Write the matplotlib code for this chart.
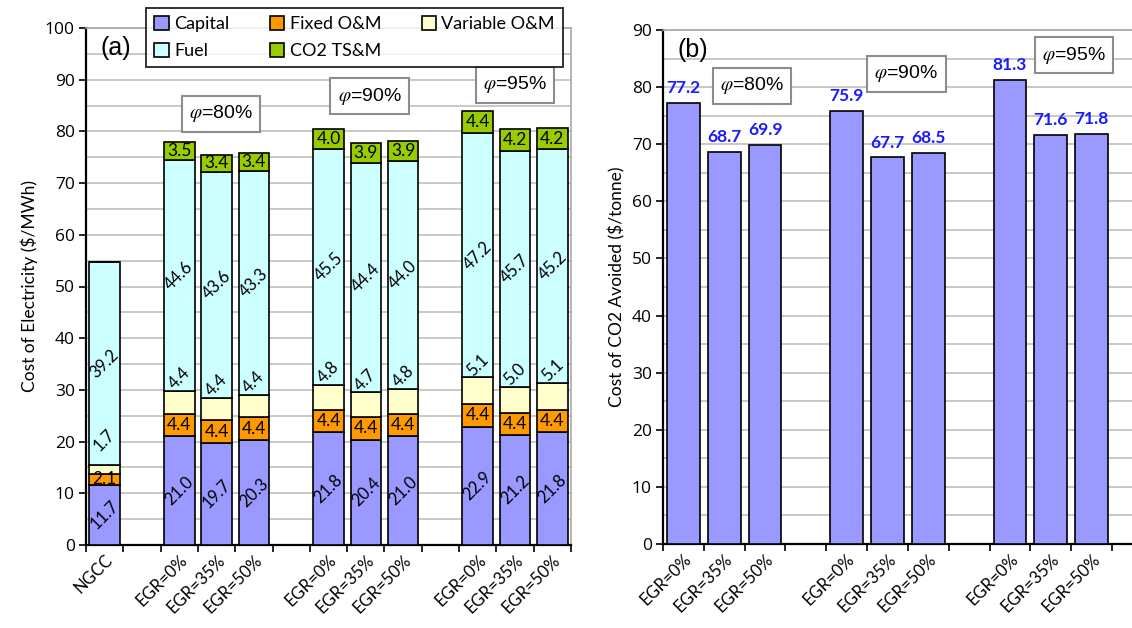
import matplotlib.pyplot as plt
import numpy as np

plt.rcParams['mathtext.fontset'] = 'stix'

# data, panel (a): cost of electricity components ($/MWh)
cats_a = ['NGCC', '', 'EGR=0%', 'EGR=35%', 'EGR=50%', '', 'EGR=0%', 'EGR=35%', 'EGR=50%',
          '', 'EGR=0%', 'EGR=35%', 'EGR=50%']
bar_slots_a = [0, 2, 3, 4, 6, 7, 8, 10, 11, 12]
capital = [11.7, 21.0, 19.7, 20.3, 21.8, 20.4, 21.0, 22.9, 21.2, 21.8]
fixed_om = [2.1, 4.4, 4.4, 4.4, 4.4, 4.4, 4.4, 4.4, 4.4, 4.4]
variable_om = [1.7, 4.4, 4.4, 4.4, 4.8, 4.7, 4.8, 5.1, 5.0, 5.1]
fuel = [39.2, 44.6, 43.6, 43.3, 45.5, 44.4, 44.0, 47.2, 45.7, 45.2]
co2_tsm = [0.0, 3.5, 3.4, 3.4, 4.0, 3.9, 3.9, 4.4, 4.2, 4.2]

# data, panel (b): cost of CO2 avoided ($/tonne)
cats_b = ['EGR=0%', 'EGR=35%', 'EGR=50%', '', 'EGR=0%', 'EGR=35%', 'EGR=50%',
          '', 'EGR=0%', 'EGR=35%', 'EGR=50%']
bar_slots_b = [0, 1, 2, 4, 5, 6, 8, 9, 10]
co2_avoided = [77.2, 68.7, 69.9, 75.9, 67.7, 68.5, 81.3, 71.6, 71.8]

phi_labels = ['80%', '90%', '95%']

colors = {'Capital': '#9999ff', 'Fixed O&M': '#ff9900', 'Variable O&M': '#ffffcc',
          'Fuel': '#ccffff', 'CO2 TS&M': '#99cc00'}

LAB = 'Lato'
ARI = 'Liberation Sans'
NUM = 'Open Sans'

fig = plt.figure(figsize=(11.32, 6.28), dpi=100)
ax1 = fig.add_axes([86 / 1132, 1 - 545 / 628, (571 - 86) / 1132, (545 - 28) / 628])
ax2 = fig.add_axes([663 / 1132, 1 - 544 / 628, (1132 - 663) / 1132, (544 - 30) / 628])


def style_axes(ax, ncat, ymax, xmax):
    ax.set_xlim(-0.5, xmax)
    ax.set_ylim(0, ymax)
    ax.set_yticks(np.arange(0, ymax + 1, 10))
    ax.set_yticks(np.arange(5, ymax, 10), minor=True)
    ax.set_xticks(np.arange(-0.5, ncat, 1.0), minor=True)
    ax.grid(True, axis='y', which='both', color='#c8c8c8', linewidth=1.4, zorder=0)
    ax.set_axisbelow(True)
    ax.tick_params(axis='y', which='major', direction='out', length=5, width=1.2,
                   labelsize=12.5, pad=3)
    ax.tick_params(axis='y', which='minor', length=0)
    ax.tick_params(axis='x', which='major', length=0, pad=5)
    ax.tick_params(axis='x', which='minor', direction='out', length=5, width=1.2)
    for lbl in ax.get_yticklabels():
        lbl.set_fontfamily(NUM)
    for s in ['left', 'bottom']:
        ax.spines[s].set_linewidth(1.6)
        ax.spines[s].set_color('black')
    for s in ['top', 'right']:
        ax.spines[s].set_linewidth(1.2)
        ax.spines[s].set_color('#a8a8a8')


# ---- panel (a) ----
x = np.array(bar_slots_a)
w = 0.82
parts = [('Capital', capital), ('Fixed O&M', fixed_om), ('Variable O&M', variable_om),
         ('Fuel', fuel), ('CO2 TS&M', co2_tsm)]
bottom = np.zeros(len(x))
handles = {}
for name, vals in parts:
    vals = np.array(vals)
    h = ax1.bar(x, vals, w, bottom=bottom, color=colors[name], edgecolor='black',
                linewidth=1.2, zorder=3, label=name)
    handles[name] = h
    for xi, b, v in zip(x, bottom, vals):
        if v <= 0:
            continue
        if name in ('Capital', 'Fuel'):
            ax1.text(xi, b + v / 2, f'{v:.1f}', rotation=45, ha='center', va='center',
                     fontsize=12, family=LAB, zorder=4)
        elif name == 'Variable O&M':
            off = 4.8 if xi == 0 else 2.4
            ax1.text(xi, b + v + off, f'{v:.1f}', rotation=45, ha='center', va='center',
                     fontsize=12, family=LAB, zorder=4)
        else:
            ax1.text(xi, b + v / 2, f'{v:.1f}', ha='center', va='center',
                     fontsize=12.5, family=LAB, zorder=4)
    bottom = bottom + vals

style_axes(ax1, len(cats_a), 100, len(cats_a) - 0.5)
ax1.set_xticks(np.arange(len(cats_a)))
ax1.set_xticklabels(cats_a, rotation=45, ha='right', rotation_mode='anchor',
                    fontsize=12, family=LAB)
ax1.set_ylabel('Cost of Electricity ($/MWh)', fontsize=12.5, family=LAB, labelpad=5)
ax1.text(0.03, 0.985, '(a)', transform=ax1.transAxes, fontsize=18, family=ARI, va='top')

order = ['Capital', 'Fuel', 'Fixed O&M', 'CO2 TS&M', 'Variable O&M']
leg = fig.legend([handles[k] for k in order], order, ncol=3, mode='expand',
                 loc='upper left',
                 bbox_to_anchor=(146 / 1132, 1 - 66 / 628, 417 / 1132, 58 / 628),
                 prop={'family': LAB, 'size': 13},
                 frameon=True, fancybox=False, edgecolor='black',
                 handlelength=0.8, handleheight=0.8, handletextpad=0.3,
                 borderpad=0.45, labelspacing=0.6, borderaxespad=0)
leg.get_frame().set_linewidth(1.4)

phi_box = dict(boxstyle='square,pad=0.38', facecolor='white', edgecolor='#8c8c8c',
               linewidth=1.5)
for (px, py), lab in zip([(3.12, 83.4), (7.1, 86.8), (11.0, 89.0)], phi_labels):
    ax1.text(px, py, r'$\varphi$=' + lab, ha='center', va='center', fontsize=14,
             family=ARI, bbox=phi_box, zorder=5)

# ---- panel (b) ----
xb = np.array(bar_slots_b)
ax2.bar(xb, co2_avoided, 0.8, color='#9999ff', edgecolor='black', linewidth=1.2, zorder=3)
for xi, v in zip(xb, co2_avoided):
    ax2.text(xi, v + 1.2, f'{v:.1f}', ha='center', va='bottom', fontsize=12.5,
             family=LAB, fontweight='bold', color='#1a1aff', zorder=4)

style_axes(ax2, len(cats_b), 90, len(cats_b) - 0.5 + 20 / 40.8)
ax2.spines['right'].set_visible(False)
ax2.set_xticks(np.arange(len(cats_b)))
ax2.set_xticklabels(cats_b, rotation=45, ha='right', rotation_mode='anchor',
                    fontsize=12, family=LAB)
ax2.set_ylabel('Cost of CO2 Avoided ($/tonne)', fontsize=12.5, family=LAB, labelpad=5)
ax2.text(0.03, 0.985, '(b)', transform=ax2.transAxes, fontsize=18, family=ARI, va='top')
for (px, py), lab in zip([(1.68, 80.2), (5.46, 82.3), (9.57, 85.6)], phi_labels):
    ax2.text(px, py, r'$\varphi$=' + lab, ha='center', va='center', fontsize=14,
             family=ARI, bbox=phi_box, zorder=5)

fig.savefig('out.png', dpi=100)
